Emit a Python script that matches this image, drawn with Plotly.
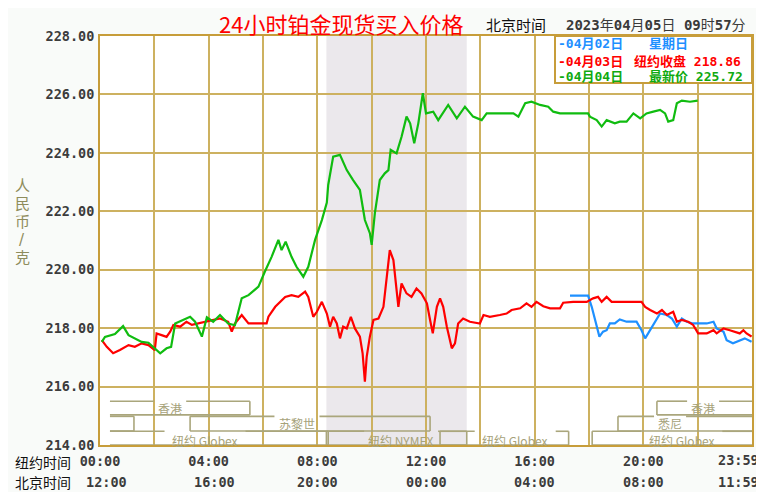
import plotly.graph_objects as go

# ---------------- data (time = minutes after 00:00 New York time, price in CNY/g) ----------------
green_t = [4, 11, 33, 51, 63, 77, 92, 107, 118, 133, 147, 157, 166, 188, 199, 210, 225, 236, 250, 265,
           283, 298, 313, 328, 350, 364, 379, 394, 401, 410, 423, 434, 449, 460, 475, 490, 501, 504, 515, 530,
           545, 559, 574, 585, 596, 600, 607, 618, 629, 637, 642, 655, 666, 677, 685, 694, 703, 713, 720, 736,
           747, 769, 788, 806, 824, 843, 854, 861, 883, 913, 924, 939, 953, 972, 990, 1001, 1016, 1078, 1082, 1097,
           1108, 1119, 1137, 1148, 1163, 1178, 1193, 1207, 1222, 1237, 1248, 1255, 1266, 1274, 1285, 1303, 1320]
green_v = [217.53, 217.70, 217.80, 218.07, 217.76, 217.65, 217.53, 217.50, 217.36, 217.14, 217.31, 217.36, 218.16, 218.33, 218.39, 218.22, 217.71, 218.37, 218.22, 218.45,
           218.16, 218.10, 219.02, 219.13, 219.42, 219.93, 220.44, 221.02, 220.67, 220.96, 220.44, 220.10, 219.76, 220.10, 221.02, 221.70, 222.30, 222.90, 223.87, 223.93,
           223.41, 223.07, 222.73, 221.70, 221.25, 220.85, 221.93, 223.07, 223.30, 223.41, 224.10, 223.98, 224.55, 225.24, 225.01, 224.33, 225.01, 226.04, 225.35, 225.41,
           225.12, 225.64, 225.18, 225.58, 225.24, 225.12, 225.35, 225.35, 225.35, 225.35, 225.24, 225.70, 225.75, 225.64, 225.58, 225.41, 225.35, 225.35, 225.24, 225.12,
           224.90, 225.12, 225.01, 225.07, 225.07, 225.35, 225.18, 225.35, 225.41, 225.47, 225.35, 225.07, 225.12, 225.70, 225.79, 225.75, 225.79]

red_t = [4, 15, 29, 44, 63, 77, 92, 107, 121, 125, 136, 147, 155, 162, 177, 191, 203, 217, 232, 254,
         265, 283, 291, 298, 313, 328, 342, 368, 372, 387, 409, 423, 438, 453, 460, 471, 479, 490, 501, 508,
         515, 523, 530, 537, 545, 554, 563, 574, 580, 585, 589, 596, 604, 615, 626, 633, 640, 648, 654, 659,
         666, 677, 688, 699, 710, 722, 729, 735, 744, 751, 758, 766, 777, 784, 791, 802, 817, 839, 847, 861,
         883, 898, 909, 928, 942, 953, 964, 979, 994, 1016, 1023, 1045, 1075, 1089, 1100, 1108, 1119, 1130, 1196, 1204,
         1215, 1230, 1241, 1252, 1266, 1274, 1285, 1299, 1310, 1321, 1340, 1355, 1362, 1377, 1391, 1402, 1413, 1421, 1428, 1439]
red_v = [217.59, 217.36, 217.14, 217.25, 217.42, 217.36, 217.48, 217.42, 217.25, 217.82, 217.76, 217.70, 217.88, 218.11, 218.05, 218.22, 218.11, 218.16, 218.22, 218.28,
         218.33, 218.22, 217.88, 218.16, 218.45, 218.16, 218.16, 218.16, 218.39, 218.73, 219.07, 219.13, 219.07, 219.25, 219.07, 218.39, 218.56, 218.90, 218.50, 218.05,
         218.39, 218.16, 217.65, 218.05, 217.99, 218.39, 217.99, 217.71, 217.14, 216.17, 217.02, 217.71, 218.28, 218.33, 218.73, 219.65, 220.67, 220.33, 219.42, 218.73,
         219.53, 219.19, 219.07, 219.36, 219.19, 218.85, 218.28, 217.82, 218.73, 219.02, 218.73, 218.05, 217.31, 217.48, 218.16, 218.33, 218.22, 218.16, 218.45, 218.39,
         218.45, 218.50, 218.62, 218.68, 218.85, 218.73, 218.90, 218.75, 218.68, 218.68, 218.87, 218.90, 218.90, 219.02, 219.07, 218.90, 219.07, 218.90, 218.90, 218.73,
         218.62, 218.50, 218.62, 218.45, 218.56, 218.22, 218.28, 218.22, 218.11, 217.82, 217.82, 217.93, 217.82, 217.99, 217.93, 217.88, 217.82, 217.93, 217.82, 217.71]

blue_t = [1038, 1078, 1086, 1093, 1103, 1111, 1119, 1126, 1137, 1148, 1163, 1185, 1196, 1204, 1215, 1230, 1237,
          1252, 1263, 1274, 1285, 1296, 1310, 1325, 1340, 1355, 1362, 1377, 1384, 1398, 1413, 1424, 1439]
blue_v = [219.11, 219.11, 218.73, 218.28, 217.71, 217.88, 217.93, 218.16, 218.16, 218.30, 218.22, 218.22, 217.93, 217.65, 217.93, 218.33, 218.50,
          218.45, 218.33, 218.05, 218.33, 218.22, 218.16, 218.16, 218.16, 218.22, 217.99, 217.88, 217.59, 217.48, 217.59, 217.65, 217.53]

y_ticks = [214, 216, 218, 220, 222, 224, 226, 228]
ny_tick_vals = [0, 240, 480, 720, 960, 1200]
ny_tick_text = ["00:00", "04:00", "08:00", "12:00", "16:00", "20:00"]
bj_tick_text = ["12:00", "16:00", "20:00", "00:00", "04:00", "08:00"]
end_tick_val = 1439
ny_end_text = "23:59"
bj_end_text = "11:59"

legend_dates = ["-04月02日", "-04月03日", "-04月04日"]
legend_info = ["星期日", "纽约收盘 218.86", "最新价 225.72"]

y_title_chars = ["人", "民", "币", "/", "克"]

nymex_window = [500, 810]

# market sessions: label, row (0 top), start, end, label centre (minutes)
session_labels = ["香港", "", "苏黎世", "纽约 Globex", "纽约 NYMEX", "纽约 Globex", "纽约 Globex", "悉尼", "香港"]
session_rows = [0, 1, 1, 2, 2, 2, 2, 1, 0]
session_start = [22, 22, 199, 22, 500, 751, 1087, 1144, 1230]
session_end = [331, 75, 729, 504, 810, 1035, 1440, 1440, 1440]
session_label_at = [155, None, 435, 232, 665, 917, 1285, 1259, 1332]

# ---------------- layout helpers ----------------
# the page body adds an 8px offset; reference-pixel coordinates are used below
OFF = 8
W, H = 764 - OFF, 492 - OFF
PLOT_X0, PLOT_X1, PLOT_Y0, PLOT_Y1 = 100, 752, 36, 445      # reference pixels
L, T = PLOT_X0 - OFF, PLOT_Y0 - OFF
R, B = W - (PLOT_X1 - OFF), H - (PLOT_Y1 - OFF)
PW, PH = PLOT_X1 - PLOT_X0, PLOT_Y1 - PLOT_Y0


def pxx(px):
    return (px - PLOT_X0) / PW


def pxy(py):
    return (PLOT_Y1 - py) / PH


GRID = "#cdb160"
FRAME = "#c79d3a"
SESS = "#aaa67c"
SESS_TXT = "#a6a27a"
MONO = "DejaVu Sans Mono, Noto Sans CJK SC"
CJK = "Noto Sans CJK SC"

fig = go.Figure()
fig.add_trace(go.Scatter(x=blue_t, y=blue_v, mode="lines", line=dict(color="#1e90ff", width=2.2),
                         hoverinfo="skip", showlegend=False))
fig.add_trace(go.Scatter(x=red_t, y=red_v, mode="lines", line=dict(color="#ff0000", width=2.2),
                         hoverinfo="skip", showlegend=False))
fig.add_trace(go.Scatter(x=green_t, y=green_v, mode="lines", line=dict(color="#10bc10", width=2.2),
                         hoverinfo="skip", showlegend=False))

shapes = []
# NYMEX shading
shapes.append(dict(type="rect", xref="x", yref="paper", x0=nymex_window[0], x1=nymex_window[1], y0=0, y1=1,
                   fillcolor="#ebe8ec", line=dict(width=0), layer="below"))

# session brackets
row_top = [215.50, 214.98, 214.47]
row_bot = [215.03, 214.48, 214.0]
row_mid = [215.26, 214.75, 214.17]
MIN_PER_PX = 1440 / PW


def text_width_px(s):
    w = 0
    for ch in s:
        w += 7 if ord(ch) < 256 else 13
    return w


annotations = []
for lab, row, s, e, lx in zip(session_labels, session_rows, session_start, session_end, session_label_at):
    top, bot = row_top[row], row_bot[row]
    ln = dict(color=SESS, width=1.6)
    if lab:
        half = (text_width_px(lab) / 2 + 3) * MIN_PER_PX
        shapes.append(dict(type="line", xref="x", yref="y", x0=s, x1=lx - half, y0=top, y1=top, line=ln, layer="above"))
        shapes.append(dict(type="line", xref="x", yref="y", x0=lx + half, x1=e, y0=top, y1=top, line=ln, layer="above"))
        annotations.append(dict(x=lx, y=row_mid[row], xref="x", yref="y", text=lab, showarrow=False,
                                xanchor="center", yanchor="middle",
                                font=dict(family="Noto Sans CJK SC, DejaVu Sans", size=12, color=SESS_TXT)))
    else:
        shapes.append(dict(type="line", xref="x", yref="y", x0=s, x1=e, y0=top, y1=top, line=ln, layer="above"))
    shapes.append(dict(type="line", xref="x", yref="y", x0=s, x1=e, y0=bot, y1=bot, line=ln, layer="above"))
    if s > 30:
        shapes.append(dict(type="line", xref="x", yref="y", x0=s, x1=s, y0=top, y1=bot, line=ln, layer="above"))
    if e < 1430:
        shapes.append(dict(type="line", xref="x", yref="y", x0=e, x1=e, y0=top, y1=bot, line=ln, layer="above"))

# legend box
shapes.append(dict(type="rect", xref="paper", yref="paper", x0=pxx(555), x1=pxx(752), y0=pxy(83), y1=pxy(36),
                   fillcolor="white", line=dict(color=FRAME, width=2), layer="above"))

legend_colors = ["#1e90ff", "#ff0000", "#10aa10"]
legend_info_x = [647, 632, 647]
legend_rows_y = [44, 61, 77]
for i in range(3):
    annotations.append(dict(x=pxx(556), y=pxy(legend_rows_y[i]), xref="paper", yref="paper", xanchor="left",
                            yanchor="middle", showarrow=False, text=legend_dates[i],
                            font=dict(family=MONO, size=13, color=legend_colors[i], weight="bold")))
    annotations.append(dict(x=pxx(legend_info_x[i]), y=pxy(legend_rows_y[i]), xref="paper", yref="paper",
                            xanchor="left", yanchor="middle", showarrow=False, text=legend_info[i],
                            font=dict(family=MONO, size=13, color=legend_colors[i], weight="bold")))

# titles
annotations.append(dict(x=pxx(341), y=pxy(23), xref="paper", yref="paper", showarrow=False,
                        xanchor="center", yanchor="middle",
                        text="24小时铂金现货买入价格", font=dict(family=CJK, size=22, color="#ff0000")))
annotations.append(dict(x=pxx(484), y=pxy(25), xref="paper", yref="paper", xanchor="left", yanchor="middle",
                        showarrow=False, text="北京时间", font=dict(family=CJK, size=15, color="#111111")))
annotations.append(dict(x=pxx(564), y=pxy(25), xref="paper", yref="paper", xanchor="left", yanchor="middle",
                        showarrow=False,
                        text="<b>2023</b>年<b>04</b>月<b>05</b>日 <b>09</b>时<b>57</b>分",
                        font=dict(family=MONO, size=14, color="#3a3a3a")))

# y title (stacked characters)
for k, ch in enumerate(y_title_chars):
    annotations.append(dict(x=pxx(22), y=pxy(186 + 18 * k), xref="paper", yref="paper", showarrow=False,
                            text=ch, xanchor="center", yanchor="middle",
                            font=dict(family="DejaVu Sans, Noto Sans CJK SC", size=15, color="#8e8c5c")))

# x row captions
annotations.append(dict(x=pxx(13), y=pxy(462), xref="paper", yref="paper", xanchor="left", yanchor="middle",
                        showarrow=False, text="纽约时间", font=dict(family=CJK, size=14, color="#111111")))
annotations.append(dict(x=pxx(13), y=pxy(482), xref="paper", yref="paper", xanchor="left", yanchor="middle",
                        showarrow=False, text="北京时间", font=dict(family=CJK, size=14, color="#111111")))

# Beijing time row and end labels
tick_font = dict(family=MONO, size=13.5, color="#3c3c3c", weight="bold")
for v, t in zip(ny_tick_vals, bj_tick_text):
    annotations.append(dict(x=v, y=pxy(482), xref="x", yref="paper", showarrow=False, text=t,
                            xanchor="center", yanchor="middle",
                            xshift=6 if v < 480 else 0, font=tick_font))
annotations.append(dict(x=end_tick_val, y=pxy(482), xref="x", yref="paper", showarrow=False, text=bj_end_text,
                        xanchor="center", yanchor="middle", xshift=-13, font=tick_font))
annotations.append(dict(x=end_tick_val, y=pxy(460), xref="x", yref="paper", showarrow=False, text=ny_end_text,
                        xanchor="center", yanchor="middle", xshift=-13, font=tick_font))

grid_vals = list(range(0, 1440, 120))
grid_text = []
for g in grid_vals:
    grid_text.append(ny_tick_text[ny_tick_vals.index(g)] if g in ny_tick_vals else "")

fig.update_layout(
    width=W, height=H,
    margin=dict(l=L, r=R, t=T, b=B, pad=0, autoexpand=False),
    paper_bgcolor="#f9fbf9",
    plot_bgcolor="white",
    shapes=shapes,
    annotations=annotations,
    showlegend=False,
    xaxis=dict(range=[0, 1440], tickvals=grid_vals, ticktext=grid_text, showgrid=True, gridcolor=GRID,
               gridwidth=2, zeroline=False, showline=True, linecolor=FRAME, linewidth=2, mirror=True,
               ticks="outside", ticklen=3, tickcolor="rgba(0,0,0,0)", tickfont=tick_font, fixedrange=True),
    yaxis=dict(range=[214, 228], tickvals=y_ticks, tickformat=".2f", showgrid=True, gridcolor=GRID,
               gridwidth=2, zeroline=False, showline=True, linecolor=FRAME, linewidth=2, mirror=True,
               ticks="outside", ticklen=1, tickcolor="rgba(0,0,0,0)", tickfont=tick_font, fixedrange=True),
)

fig.write_html("out.html")
